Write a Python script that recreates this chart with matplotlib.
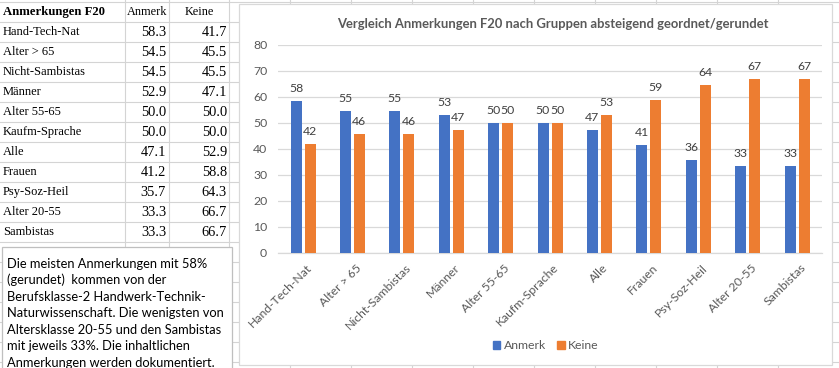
import math
import matplotlib
matplotlib.use("Agg")
import matplotlib.pyplot as plt
import matplotlib.transforms as mtransforms
from matplotlib.patches import Rectangle
from matplotlib.lines import Line2D

# ---------------- data ----------------
table_title = "Anmerkungen F20"
series_names = ["Anmerk", "Keine"]
categories = ["Hand-Tech-Nat", "Alter > 65", "Nicht-Sambistas", "Männer", "Alter 55-65",
              "Kaufm-Sprache", "Alle", "Frauen", "Psy-Soz-Heil", "Alter 20-55", "Sambistas"]
anmerk = [58.3, 54.5, 54.5, 52.9, 50.0, 50.0, 47.1, 41.2, 35.7, 33.3, 33.3]
keine = [41.7, 45.5, 45.5, 47.1, 50.0, 50.0, 52.9, 58.8, 64.3, 66.7, 66.7]
chart_title = "Vergleich Anmerkungen F20 nach Gruppen absteigend geordnet/gerundet"
yticks = [0, 10, 20, 30, 40, 50, 60, 70, 80]
note_lines = [
    "Die meisten Anmerkungen mit 58%",
    "(gerundet)  kommen von der",
    "Berufsklasse-2 Handwerk-Technik-",
    "Naturwissenschaft. Die wenigsten von",
    "Altersklasse 20-55 und den Sambistas",
    "mit jeweils 33%. Die inhaltlichen",
    "Anmerkungen werden dokumentiert.",
]

# ---------------- style ----------------
W, H = 839, 368
BLUE = "#4472C4"
ORANGE = "#ED7D31"
GRID = "#D9D9D9"
SHEET = "#D4D4D4"
TXT = "#595959"
LBL = "#404040"
SANS = ["Lato", "DejaVu Sans"]
SERIF = ["Liberation Serif", "DejaVu Serif"]


def r_half_up(v):
    return int(math.floor(v + 0.5))


fig = plt.figure(figsize=(W / 100, H / 100), dpi=100)
fig.patch.set_facecolor("white")

# background "spreadsheet" axes in pixel coordinates
bg = fig.add_axes([0, 0, 1, 1])
bg.set_xlim(0, W)
bg.set_ylim(H, 0)
bg.axis("off")

col_lines = [125, 169, 229, 290, 351, 412, 473, 534, 595, 656, 717, 778]
for x in col_lines:
    bg.add_line(Line2D([x, x], [0, H], color=SHEET, lw=0.8, zorder=1))
for k in range(19):
    y = 2 + 20 * k
    bg.add_line(Line2D([0, W], [y, y], color=SHEET, lw=0.8, zorder=1))

# table text
bg.text(3, 12, table_title, family=SERIF, fontsize=9.2, fontweight="bold",
        ha="left", va="center", color="black", zorder=2)
bg.text(147, 12, series_names[0], family=SERIF, fontsize=8.8, ha="center", va="center", zorder=2)
bg.text(199, 12, series_names[1], family=SERIF, fontsize=8.8, ha="center", va="center", zorder=2)
for i, (c, a, k) in enumerate(zip(categories, anmerk, keine)):
    yc = 32 + 20 * i
    bg.text(3, yc, c, family=SERIF, fontsize=9.0, ha="left", va="center", zorder=2)
    bg.text(166, yc, f"{a:.1f}", family=SERIF, fontsize=10.4, ha="right", va="center", zorder=2)
    bg.text(227, yc, f"{k:.1f}", family=SERIF, fontsize=10.4, ha="right", va="center", zorder=2)

# text box
bg.add_patch(Rectangle((2, 247), 229.7, 130, facecolor="white", edgecolor="#BFBFBF",
                       lw=0.9, zorder=3))
for i, line in enumerate(note_lines):
    bg.text(7, 263.5 + 16.6 * i, line, family=SANS, fontsize=9.3, ha="left", va="center",
            color="black", zorder=4)

# chart frame
bg.add_patch(Rectangle((239, 4), 593, 361, facecolor="white", edgecolor=GRID, lw=0.9, zorder=3))
bg.text(553, 24, chart_title, family=SANS, fontsize=9.4, fontweight="bold", color=TXT,
        ha="center", va="center", zorder=4)

# plot area
x0, x1, y0, y80 = 278.3, 821.7, 252.5, 44.5
ax = fig.add_axes([x0 / W, 1 - y0 / H, (x1 - x0) / W, (y0 - y80) / H])
ax.set_zorder(5)
ax.patch.set_alpha(0)
ax.set_xlim(-0.5, len(categories) - 0.5)
ax.set_ylim(0, 80)

cat_w = (x1 - x0) / len(categories)
bw = 11 / cat_w
off = 7 / cat_w
xs = list(range(len(categories)))
ax.bar([x - off for x in xs], anmerk, width=bw, color=BLUE, zorder=3, label=series_names[0])
ax.bar([x + off for x in xs], keine, width=bw, color=ORANGE, zorder=3, label=series_names[1])

for x, a, k in zip(xs, anmerk, keine):
    ax.annotate(str(r_half_up(a)), (x - off, a), xytext=(0, 9), textcoords="offset points",
                ha="center", va="center", fontsize=8.8, color=LBL, family=SANS)
    ax.annotate(str(r_half_up(k)), (x + off, k), xytext=(0, 9), textcoords="offset points",
                ha="center", va="center", fontsize=8.8, color=LBL, family=SANS)

ax.set_yticks(yticks)
ax.set_yticklabels([str(t) for t in yticks], family=SANS, fontsize=8.8, color=TXT)
ax.yaxis.grid(True, color=GRID, lw=0.9, zorder=0)
ax.set_axisbelow(True)
ax.tick_params(axis="both", length=0)
ax.tick_params(axis="y", pad=8)
ax.set_xticks(xs)
ax.set_xticklabels(categories, rotation=45, ha="right", va="center",
                   rotation_mode="anchor", family=SANS, fontsize=8.8, color=TXT)
ax.tick_params(axis="x", pad=9)
shift = mtransforms.ScaledTranslation(7 / 100, -1 / 100, fig.dpi_scale_trans)
for lab in ax.get_xticklabels():
    lab.set_transform(lab.get_transform() + shift)
for s in ["top", "right", "left"]:
    ax.spines[s].set_visible(False)
ax.spines["bottom"].set_color(GRID)
ax.spines["bottom"].set_linewidth(0.9)

# legend
handles = [Rectangle((0, 0), 1, 1, color=BLUE), Rectangle((0, 0), 1, 1, color=ORANGE)]
leg = fig.legend(handles, series_names, loc="center", bbox_to_anchor=(546 / W, 1 - 345.5 / H),
                 ncol=2, frameon=False, handlelength=0.6, handleheight=0.6,
                 handletextpad=0.3, columnspacing=0.9, prop={"family": SANS, "size": 8.8})
for t in leg.get_texts():
    t.set_color(TXT)
leg.set_zorder(6)

fig.savefig("out.png", dpi=100, facecolor="white")
